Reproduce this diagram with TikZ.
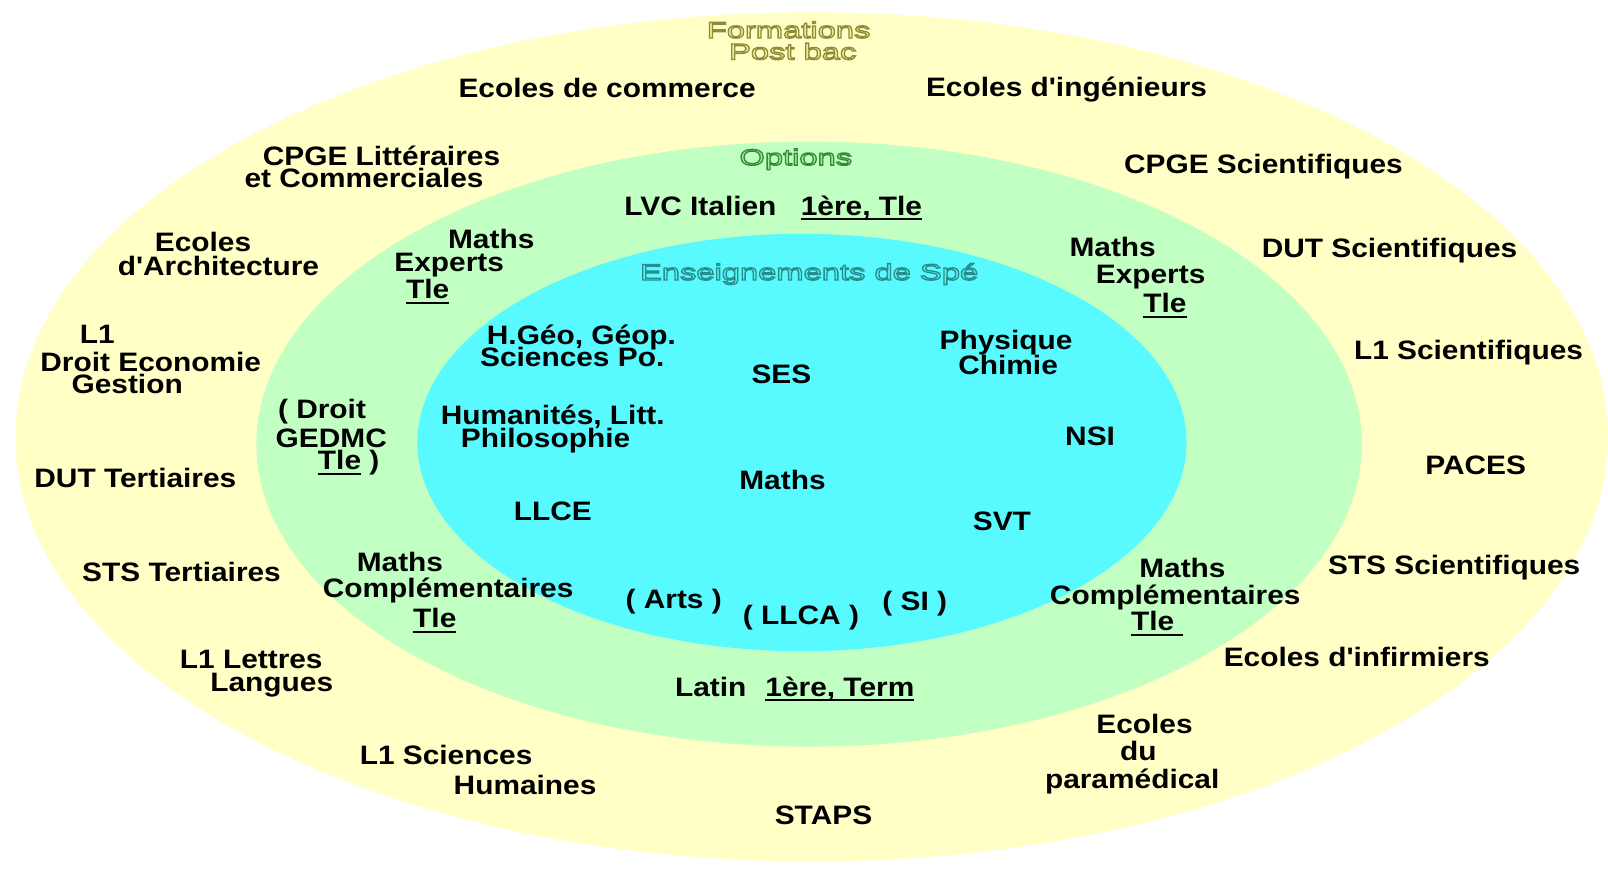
\documentclass[tikz,border=0pt]{standalone}
\usepackage{fontspec}
\setmainfont[FakeStretch=1.12, Ligatures=TeXOff]{Liberation Sans}
\newfontfamily\titrefont[FakeStretch=1.45, Ligatures=TeXOff]{Liberation Sans}

\definecolor{jaune}{RGB}{255,255,198}
\definecolor{vert}{RGB}{194,255,194}
\definecolor{turquoise}{RGB}{88,250,255}
\definecolor{jauneT}{RGB}{245,238,150}
\definecolor{vertT}{RGB}{160,238,160}
\definecolor{turquoiseT}{RGB}{100,240,240}

% souligne un mot (trait epais sous la ligne de base)
\newcommand\souligne[1]{\setbox0\hbox{#1}\rlap{\vrule height -3pt depth 5pt width \wd0}\box0\relax}
% texte creux : remplissage #1, contour #2 (rgb pdf)
\newcommand\creux[3]{{\color{#1}\special{pdf:literal direct #2 RG 2 Tr 1.3 w}#3\special{pdf:literal direct 0 Tr}}}

\begin{document}
\begin{tikzpicture}[x=1pt, y=-1pt,
    lbl/.style={anchor=base, inner sep=0pt, font=\fontsize{26}{26}\selectfont\bfseries},
    titre/.style={anchor=base, inner sep=0pt, font=\fontsize{22}{22}\selectfont\titrefont}]
    \useasboundingbox (0,0) rectangle (1568,848);
    \fill[white] (0,0) rectangle (1568,848);

    % les trois zones
    \fill[jaune] (791.5,426) ellipse [x radius=776.5pt, y radius=414pt];
    \fill[vert] (789,433) ellipse [x radius=539pt, y radius=295pt];
    \fill[turquoise] (782,431.5) ellipse [x radius=375pt, y radius=203.5pt];

    % Formations post bac
    \node[titre] (F1) at (769,37) {\creux{jauneT}{0.55 0.55 0.22}{Formations}};
    \node[titre] (F2) at (773,58) {\creux{jauneT}{0.55 0.55 0.22}{Post bac}};
    \node[lbl] (P1) at (592,95) {Ecoles de commerce};
    \node[lbl] (P2) at (1040,94) {Ecoles d'ingénieurs};
    \node[lbl] (P3a) at (372,161) {CPGE Littéraires};
    \node[lbl] (P3b) at (355,183) {et Commerciales};
    \node[lbl] (P4) at (1232,169) {CPGE Scientifiques};
    \node[lbl] (P5a) at (198,245) {Ecoles};
    \node[lbl] (P5b) at (213,269) {d'Architecture};
    \node[lbl] (P6) at (1355,251) {DUT Scientifiques};
    \node[lbl] (P7a) at (95,335) {L1};
    \node[lbl] (P7b) at (147,362) {Droit Economie};
    \node[lbl] (P7c) at (124,384) {Gestion};
    \node[lbl] (P8) at (1432,351) {L1 Scientifiques};
    \node[lbl] (P9) at (132,475) {DUT Tertiaires};
    \node[lbl] (P10) at (1439,463) {PACES};
    \node[lbl] (P11) at (177,567) {STS Tertiaires};
    \node[lbl] (P12) at (1418,560) {STS Scientifiques};
    \node[lbl] (P13a) at (245,652) {L1 Lettres};
    \node[lbl] (P13b) at (265,674) {Langues};
    \node[lbl] (P14) at (1323,650) {Ecoles d'infirmiers};
    \node[lbl] (P15a) at (435,745) {L1 Sciences};
    \node[lbl] (P15b) at (512,775) {Humaines};
    \node[lbl] (P16a) at (1116,715) {Ecoles};
    \node[lbl] (P16b) at (1110,742) {du};
    \node[lbl] (P16c) at (1104,769) {paramédical};
    \node[lbl] (P17) at (803,804) {STAPS};

    % Options
    \node[titre] (O0) at (776,161) {\creux{vertT}{0.2 0.55 0.2}{Options}};
    \node[lbl] (O1a) at (683,210) {LVC Italien};
    \node[lbl] (O1b) at (840,210) {\souligne{1ère, Tle}};
    \node[lbl] (O2a) at (479,242) {Maths};
    \node[lbl] (O2b) at (438,265) {Experts};
    \node[lbl] (O2c) at (417,291) {\souligne{Tle}};
    \node[lbl] (O3a) at (1085,250) {Maths};
    \node[lbl] (O3b) at (1122,276) {Experts};
    \node[lbl] (O3c) at (1136,305) {\souligne{Tle}};
    \node[lbl] (O4a) at (314,408) {( Droit};
    \node[lbl] (O4b) at (323,436) {GEDMC};
    \node[lbl] (O4c) at (340,458) {\souligne{Tle} )};
    \node[lbl] (O5a) at (390,557) {Maths};
    \node[lbl] (O5b) at (437,583) {Complémentaires};
    \node[lbl] (O5c) at (424,612) {\souligne{Tle}};
    \node[lbl] (O6a) at (1153,563) {Maths};
    \node[lbl] (O6b) at (1146,589) {Complémentaires};
    \node[lbl] (O6c) at (1128,615) {\souligne{Tle\ }};
    \node[lbl] (O7a) at (693,679) {Latin};
    \node[lbl] (O7b) at (819,679) {\souligne{1ère, Term}};

    % Enseignements de specialite
    \node[titre] (S0) at (789,273) {\creux{turquoiseT}{0.15 0.55 0.55}{Enseignements de Spé}};
    \node[lbl] (S1a) at (567,336) {H.Géo, Géop.};
    \node[lbl] (S1b) at (558,357) {Sciences Po.};
    \node[lbl] (S2a) at (981,341) {Physique};
    \node[lbl] (S2b) at (983,365) {Chimie};
    \node[lbl] (S3) at (762,374) {SES};
    \node[lbl] (S4a) at (539,414) {Humanités, Litt.};
    \node[lbl] (S4b) at (532,436) {Philosophie};
    \node[lbl] (S5) at (1063,434) {NSI};
    \node[lbl] (S6) at (763,477) {Maths};
    \node[lbl] (S7) at (539,508) {LLCE};
    \node[lbl] (S8) at (977,517) {SVT};
    \node[lbl] (S9) at (657,593) {( Arts )};
    \node[lbl] (S10) at (781,609) {( LLCA )};
    \node[lbl] (S11) at (892,595) {( SI )};
\end{tikzpicture}
\end{document}
